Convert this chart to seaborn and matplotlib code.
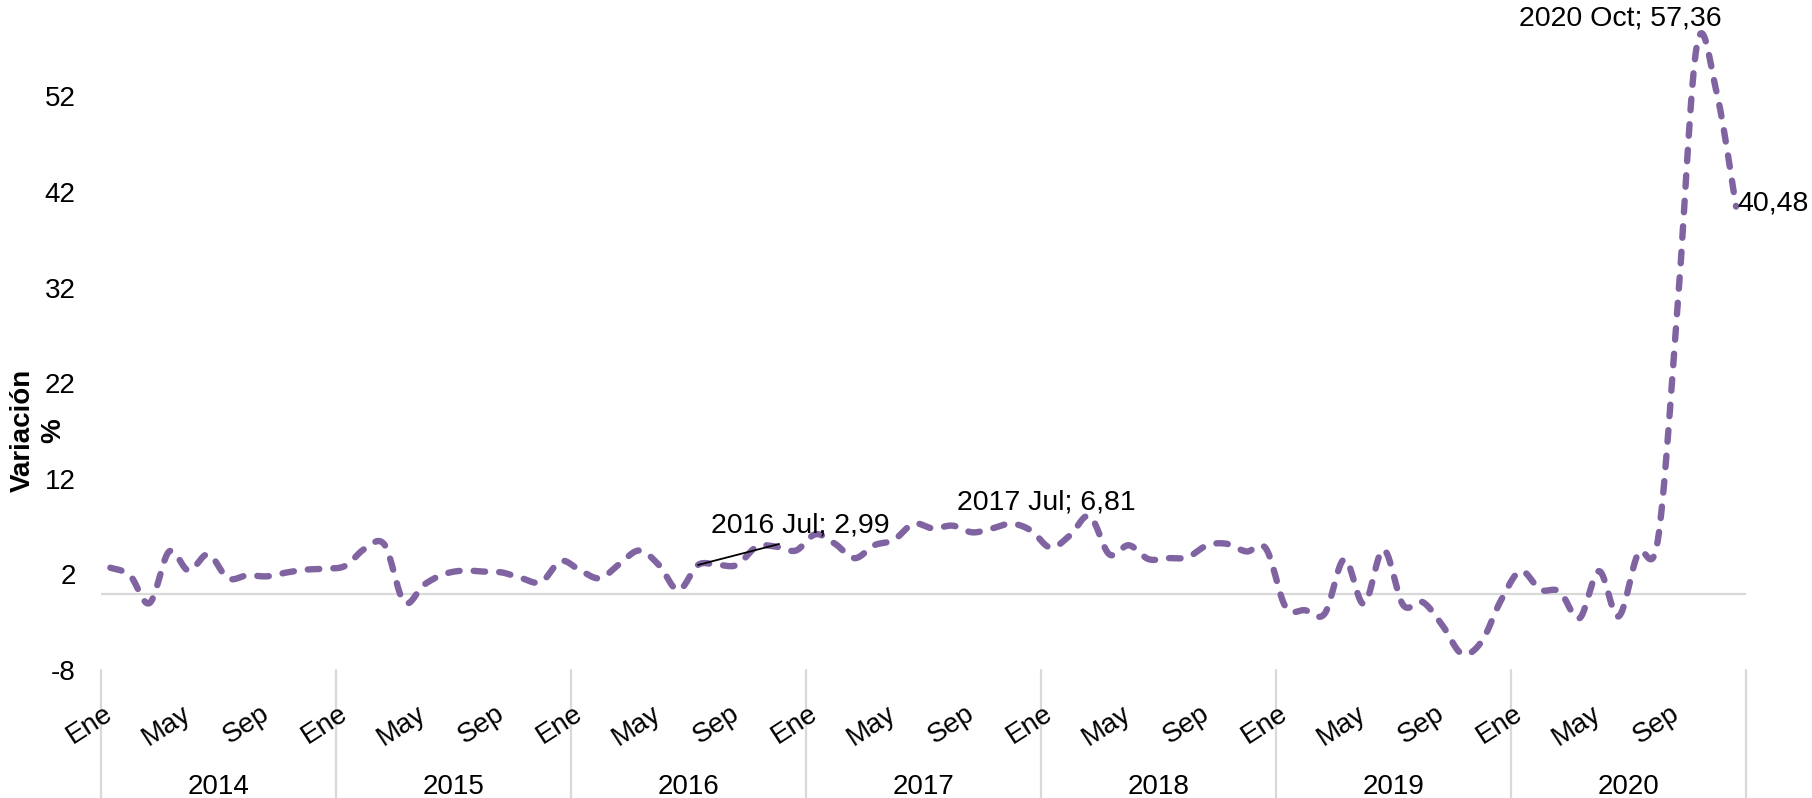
import numpy as np
import pandas as pd
import seaborn as sns
import matplotlib.pyplot as plt
from matplotlib.transforms import blended_transform_factory

years = ['2014', '2015', '2016', '2017', '2018', '2019', '2020']
meses = ['Ene', 'Feb', 'Mar', 'Abr', 'May', 'Jun', 'Jul', 'Ago', 'Sep', 'Oct', 'Nov', 'Dic']

# variación % mensual
v2014 = [2.7, 1.9, -1.0, 4.4, 2.4, 4.1, 1.6, 1.9, 1.8, 2.2, 2.5, 2.6]
v2015 = [2.9, 4.7, 5.1, -0.9, 0.9, 2.0, 2.4, 2.3, 2.2, 1.6, 1.2, 3.4]
v2016 = [2.4, 1.6, 3.1, 4.5, 3.0, 0.35, 2.99, 3.0, 3.0, 4.9, 4.9, 4.5]
v2017 = [6.2, 5.2, 3.7, 5.05, 5.6, 7.3, 6.81, 7.1, 6.4, 6.8, 7.3, 6.6]
v2018 = [4.8, 6.1, 8.1, 4.1, 5.05, 3.6, 3.7, 3.8, 5.05, 5.2, 4.4, 4.7]
v2019 = [-1.4, -1.75, -2.1, 3.6, -1.1, 4.6, -1.2, -0.9, -3.3, -6.3, -5.05, -0.7]
v2020 = [2.35, 0.4, 0.2, -2.6, 2.35, -2.4, 4.2, 5.5, 29.5, 57.36, 52.5, 40.48]

valores = np.array(v2014 + v2015 + v2016 + v2017 + v2018 + v2019 + v2020)
idx = np.arange(len(valores))

purple = '#8064A2'
grey = '#d9d9d9'


def suavizar(x, y, n=16):
    # curva suavizada tipo Excel (Bezier / Catmull-Rom)
    px = np.concatenate([[x[0]], x, [x[-1]]])
    py = np.concatenate([[y[0]], y, [y[-1]]])
    t = np.linspace(0, 1, n, endpoint=False)
    xs, ys = [], []
    for i in range(len(x) - 1):
        for p, out in ((px, xs), (py, ys)):
            p0, p1, p2, p3 = p[i], p[i + 1], p[i + 2], p[i + 3]
            b1 = p1 + (p2 - p0) / 6
            b2 = p2 - (p3 - p1) / 6
            out.extend((1 - t) ** 3 * p1 + 3 * (1 - t) ** 2 * t * b1
                       + 3 * (1 - t) * t ** 2 * b2 + t ** 3 * p2)
    xs.append(x[-1])
    ys.append(y[-1])
    return np.array(xs), np.array(ys)


sx, sy = suavizar(idx.astype(float), valores)
df = pd.DataFrame({'x': sx, 'y': sy})

sns.set_style('white')
plt.rcParams['font.family'] = ['Liberation Sans', 'DejaVu Sans']
plt.rcParams['axes.unicode_minus'] = False
plt.rcParams['text.color'] = 'black'
plt.rcParams['xtick.color'] = 'black'
plt.rcParams['ytick.color'] = 'black'
plt.rcParams['axes.labelcolor'] = 'black'

fig = plt.figure(figsize=(18.12, 7.98), dpi=100)
ax = fig.add_axes([0.0555, 0.1604, 0.908, 0.8206])

ax.axhline(0, color=grey, lw=1.6, zorder=1)
sns.lineplot(data=df, x='x', y='y', sort=False, estimator=None, color=purple,
             lw=4.6, linestyle=(0, (1.8, 2.2)), dash_capstyle='round', ax=ax, zorder=3)

ax.set_xlim(-0.5, len(valores) - 0.5)
ax.set_ylim(-8, 60.5)
ax.set_yticks(np.arange(-8, 53, 10))
ax.tick_params(axis='y', length=0, pad=18, labelsize=20)

pos = [i for i in idx if i % 12 in (0, 4, 8)]
ax.set_xticks(pos)
ax.set_xticklabels([meses[i % 12] for i in pos], rotation=33, ha='right',
                   va='center', rotation_mode='anchor', fontsize=20)
ax.tick_params(axis='x', length=0, pad=30)
ax.set_xlabel('')

for s in ax.spines.values():
    s.set_visible(False)

trans = blended_transform_factory(ax.transData, ax.transAxes)
for k in range(len(years) + 1):
    ax.plot([12 * k - 0.5, 12 * k - 0.5], [0, -0.25], transform=trans, color=grey,
            lw=1.6, clip_on=False, zorder=0.5)
for k, yr in enumerate(years):
    ax.text(12 * k + 5.5, -0.178, yr, transform=trans, ha='center', va='center',
            fontsize=20)

ax.set_ylabel('Variación\n%', fontsize=20, fontweight='bold', linespacing=1.2)
ax.yaxis.set_label_coords(-0.021, 0.366)

# etiquetas de datos
ax.annotate('2016 Jul; 2,99', xy=(30, valores[30]), xytext=(35.2, 7.1),
            ha='center', va='center', fontsize=20.5,
            arrowprops=dict(arrowstyle='-', color='black', lw=1.3,
                            relpos=(0.5, 0), shrinkA=6, shrinkB=0))
ax.text(47.8, 9.5, '2017 Jul; 6,81', ha='center', va='center', fontsize=20.5)
ax.text(77.1, 60.1, '2020 Oct; 57,36', ha='center', va='center', fontsize=20.5,
        clip_on=False)
ax.text(83.05, 40.8, '40,48', ha='left', va='center', fontsize=20.5, clip_on=False)

fig.savefig('out.png', dpi=100)
